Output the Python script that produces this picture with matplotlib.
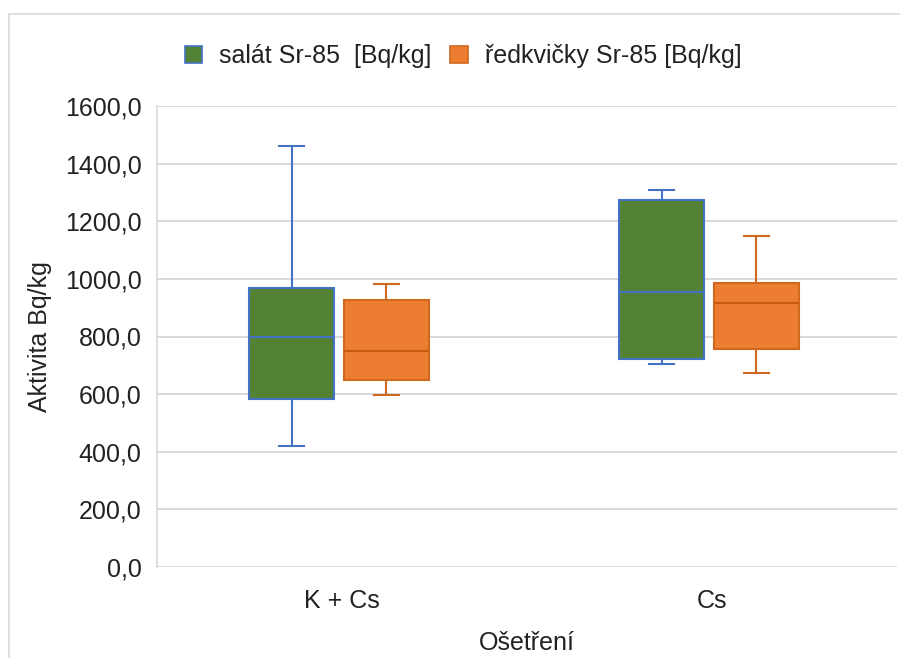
import matplotlib.pyplot as plt
from matplotlib.patches import Patch, Rectangle

plt.rcParams['font.family'] = ['Liberation Sans', 'DejaVu Sans']

# --- data (Bq/kg) ---
categories = ['K + Cs', 'Cs']
series_names = ['salát Sr-85  [Bq/kg]', 'ředkvičky Sr-85 [Bq/kg]']

salat_whislo = [421, 706]
salat_q1 = [584, 723]
salat_med = [797, 953]
salat_q3 = [967, 1273]
salat_whishi = [1461, 1308]

redkvicky_whislo = [598, 675]
redkvicky_q1 = [650, 758]
redkvicky_med = [751, 915]
redkvicky_q3 = [925, 984]
redkvicky_whishi = [981, 1148]

yticks = [0, 200, 400, 600, 800, 1000, 1200, 1400, 1600]


def make_stats(lo, q1, med, q3, hi):
    return [dict(whislo=a, q1=b, med=c, q3=d, whishi=e, fliers=[])
            for a, b, c, d, e in zip(lo, q1, med, q3, hi)]


fig = plt.figure(figsize=(9, 6.58), dpi=100)
# light chart-area border (cut off at right/bottom like the screenshot)
fig.patches.append(Rectangle((9 / 900, -0.1), 1.2, 1 - 14 / 658 + 0.1,
                             transform=fig.transFigure, fill=False,
                             edgecolor='#D9D9D9', linewidth=1.2))

ax = fig.add_axes([157 / 900, 1 - 567 / 658, 740 / 900, 461 / 658])

green = '#548235'
blue = '#4472C4'
orange = '#ED7D31'
orange_edge = '#D0691F'

pos = range(len(categories))
width = 0.23
ax.bxp(make_stats(salat_whislo, salat_q1, salat_med, salat_q3, salat_whishi),
       positions=[p - 0.136 for p in pos], widths=width, patch_artist=True,
       showfliers=False, capwidths=0.068,
       boxprops=dict(facecolor=green, edgecolor=blue, linewidth=1.5),
       medianprops=dict(color=blue, linewidth=1.5),
       whiskerprops=dict(color=blue, linewidth=1.5),
       capprops=dict(color=blue, linewidth=1.5))
ax.bxp(make_stats(redkvicky_whislo, redkvicky_q1, redkvicky_med, redkvicky_q3, redkvicky_whishi),
       positions=[p + 0.12 for p in pos], widths=width, patch_artist=True,
       showfliers=False, capwidths=0.068,
       boxprops=dict(facecolor=orange, edgecolor=orange_edge, linewidth=1.5),
       medianprops=dict(color='#C55A11', linewidth=1.5),
       whiskerprops=dict(color=orange_edge, linewidth=1.5),
       capprops=dict(color=orange_edge, linewidth=1.5))

ax.set_xlim(-0.5, 1.5)
ax.set_ylim(0, 1600)
ax.set_xticks(list(pos))
ax.set_xticklabels(categories)
ax.set_yticks(yticks)
ax.set_yticklabels([f'{v:.1f}'.replace('.', ',') for v in yticks])
ax.tick_params(length=0, labelsize=18, colors='#222222')
ax.tick_params(axis='x', pad=16)
ax.tick_params(axis='y', pad=11)
ax.yaxis.grid(True, color='#D9D9D9', linewidth=1.4)
ax.set_axisbelow(True)
for s in ['top', 'right', 'bottom']:
    ax.spines[s].set_visible(False)
ax.spines['left'].set_color('#D9D9D9')
ax.spines['left'].set_linewidth(1.2)

ax.set_ylabel('Aktivita Bq/kg', fontsize=18, color='#222222', labelpad=9)
ax.set_xlabel('Ošetření', fontsize=18, color='#222222', labelpad=13)

handles = [Patch(facecolor=green, edgecolor=blue, linewidth=1.2),
           Patch(facecolor=orange, edgecolor=orange_edge, linewidth=1.2)]
fig.legend(handles, series_names, loc='center', ncol=2,
           bbox_to_anchor=(463 / 900, 1 - 56 / 658), frameon=False,
           fontsize=18, handlelength=0.7, handleheight=0.7,
           handletextpad=0.68, columnspacing=0.76, labelcolor='#222222')

fig.savefig('out.png', dpi=100)
